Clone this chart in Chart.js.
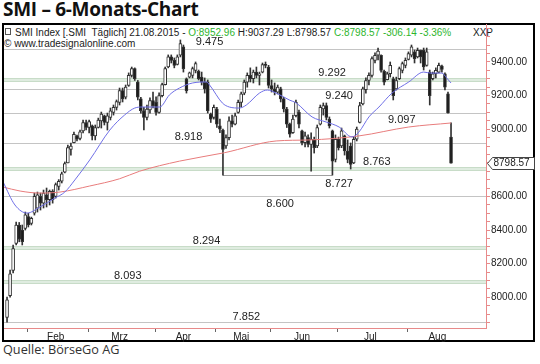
<!DOCTYPE html>
<html>
<head>
<meta charset="utf-8">
<script src="https://cdn.jsdelivr.net/npm/chart.js@4"></script>
<style>
  body { margin: 0; width: 540px; height: 364px; overflow: hidden; position: relative; background: #fff; }
  #title { position: absolute; left: 3px; top: 0; font: 700 19px/19px "Open Sans"; letter-spacing: -0.3px; color: #111; white-space: nowrap; }
  #src { position: absolute; left: 3px; top: 343px; font: 400 12.7px/13px "Open Sans"; color: #333; white-space: nowrap; }
  #frame { position: absolute; left: 2px; top: 23px; width: 529px; height: 315px; border: 2px solid #000; }
  .hdr { position: absolute; font: 10px/11px "Liberation Sans", Arial, sans-serif; color: #222; white-space: pre; }
  .g { color: #2db52d; }
  #icon { position: absolute; left: 5px; top: 28px; width: 4px; height: 5px; border: 1px solid #555; }
  canvas { position: absolute; left: 0; top: 0; }
</style>
</head>
<body>
<div id="title">SMI – 6-Monats-Chart</div>
<div id="frame"></div>
<div id="icon"></div>
<div class="hdr" style="left:15px;top:27px">SMI Index [.SMI  Täglich] 21.08.2015 - <span class="g">O:8952.96</span> H:9037.29 L:8798.57 <span class="g">C:8798.57 -306.14 -3.36%</span></div>
<div class="hdr" style="left:473px;top:27px">XXP</div>
<div class="hdr" style="left:4px;top:38px">© www.tradesignalonline.com</div>
<div id="src">Quelle: BörseGo AG</div>
<canvas id="c" width="540" height="364"></canvas>
<script>
// month labels and the candle index where each month starts
const monthNames = ['Feb', 'Mrz', 'Apr', 'Mai', 'Jun', 'Jul', 'Aug'];
const monthStart = [7, 27, 49, 69, 87, 109, 132];

// daily candles
const open = [
  7880,8010,8160,8320,8430,8400,8410,8480,8440,8500,
  8530,8600,8560,8610,8580,8630,8600,8660,8690,8745,
  8800,8880,8920,8960,8945,8990,9040,9010,9020,8960,
  9010,9050,9080,9040,9070,9100,9130,9160,9230,9190,
  9260,9320,9360,9280,9180,9110,9070,9115,9170,9160,
  9100,9200,9265,9370,9430,9410,9385,9440,9490,9300,
  9310,9320,9350,9345,9310,9280,9280,9090,9070,9120,
  9020,8995,8900,8950,9050,9030,9100,9160,9215,9280,
  9320,9300,9340,9320,9340,9385,9370,9260,9240,9220,
  9240,9180,9120,9030,8980,9080,9100,8990,8920,8950,
  8910,8940,8900,9030,9120,9140,9060,8990,8820,8940,
  8900,8960,8870,8900,8800,8940,9040,9150,9235,9290,
  9320,9410,9440,9440,9345,9295,9330,9300,9240,9300,
  9350,9380,9415,9440,9460,9430,9470,9470,9380,9340,
  9300,9330,9340,9375,9330,9210,8952.96
];
const high = [
  8001,8162,8311,8448,8445,8430,8507,8500,8477,8620,
  8626,8620,8638,8650,8638,8640,8680,8700,8745,8805,
  8906,8918,8983,8965,8995,9055,9055,9055,9025,9025,
  9066,9102,9084,9096,9126,9144,9174,9245,9245,9263,
  9335,9370,9365,9290,9190,9130,9144,9186,9221,9192,
  9216,9275,9370,9442,9442,9424,9442,9531,9501,9305,
  9340,9370,9400,9352,9340,9305,9293,9096,9144,9130,
  9060,9000,8966,9073,9084,9096,9174,9221,9293,9335,
  9365,9352,9370,9340,9394,9400,9380,9293,9275,9263,
  9250,9190,9130,9037,9084,9174,9114,8995,8983,8966,
  8978,8953,9025,9144,9156,9156,9073,8995,8966,8953,
  9007,8965,8936,8918,8953,9013,9160,9250,9305,9335,
  9430,9454,9483,9442,9352,9340,9400,9310,9310,9370,
  9400,9424,9460,9501,9471,9483,9471,9483,9483,9352,
  9340,9365,9394,9382,9335,9221,9037.29
];
const low = [
  7852,8001,8145,8311,8330,8311,8400,8418,8430,8489,
  8507,8519,8531,8537,8549,8560,8590,8638,8680,8740,
  8799,8846,8918,8930,8936,8978,8995,8978,8936,8936,
  9007,9007,9025,8995,9055,9084,9114,9144,9162,9180,
  9255,9310,9290,9174,9096,8995,9055,9096,9126,9084,
  9096,9192,9263,9365,9394,9365,9382,9430,9340,9215,
  9305,9305,9335,9293,9263,9215,9096,9040,9060,9010,
  8980,8727,8885,8936,9013,9025,9095,9132,9205,9250,
  9281,9275,9305,9263,9335,9365,9245,9221,9204,9210,
  9162,9102,9010,8953,8975,9073,9007,8906,8894,8894,
  8750,8858,8890,9025,9084,9055,9007,8727,8805,8876,
  8890,8846,8800,8763,8795,8930,9037,9145,9215,9263,
  9310,9394,9412,9340,9263,9293,9310,9174,9233,9295,
  9335,9365,9412,9430,9394,9424,9394,9352,9375,9144,
  9293,9305,9335,9340,9233,9096,8798.57
];
const close = [
  7985,8140,8290,8430,8345,8330,8490,8430,8470,8600,
  8610,8560,8620,8580,8630,8580,8670,8690,8735,8795,
  8890,8900,8970,8940,8985,9040,9010,9045,8960,9010,
  9055,9090,9040,9080,9110,9130,9165,9230,9180,9250,
  9320,9360,9300,9190,9110,9070,9120,9170,9140,9100,
  9200,9265,9360,9430,9410,9380,9430,9510,9360,9230,
  9335,9360,9390,9300,9280,9240,9110,9060,9130,9030,
  9000,8880,8950,9050,9030,9080,9160,9210,9280,9320,
  9300,9340,9320,9330,9385,9380,9260,9240,9220,9250,
  9180,9120,9030,8970,9060,9160,9030,8920,8960,8910,
  8940,8890,9010,9130,9140,9070,9020,8810,8940,8890,
  8990,8870,8820,8790,8940,9000,9140,9240,9290,9320,
  9420,9440,9465,9350,9280,9330,9380,9200,9290,9360,
  9390,9410,9450,9490,9420,9470,9430,9370,9460,9200,
  9330,9350,9380,9355,9250,9097,8798.57
];

// short moving average (blue)
const maShortX = [-1.3, 2.6, 6.6, 10.8, 15.7, 19, 22.3, 27.2, 33.8, 38.7, 42, 44.6, 50.2, 53.4, 56.7, 61, 65.6, 66.6, 70.8, 73.1, 76.4, 78.7, 83, 85.6, 88.5, 92.8, 95.1, 100.3, 104.9, 109.2, 113.4, 115.7, 119, 122.3, 126.6, 132.1, 137, 139.3, 143, 144.6, 146];
const maShortY = [8686, 8549, 8501, 8537, 8590, 8626, 8698, 8817, 8995, 9085, 9126, 9132, 9132, 9204, 9245, 9275, 9281, 9263, 9156, 9132, 9126, 9144, 9215, 9233, 9215, 9174, 9156, 9073, 9043, 9013, 8954, 8983, 9073, 9132, 9215, 9281, 9340, 9334, 9334, 9304, 9275];
// long moving average (red)
const maLongX = [-1.3, 4.3, 10.8, 17.4, 27.2, 37, 43.6, 56.7, 71.5, 88.5, 99.3, 115.7, 132.1, 146];
const maLongY = [8656, 8632, 8620, 8626, 8662, 8705, 8750, 8810, 8860, 8930, 8936, 8960, 9013, 9037];

// horizontal support / resistance levels
const levels = [9475, 9292, 9240, 9097, 8918, 8763, 8600, 8294, 8093, 7852];
const levelText = ['9.475', '9.292', '9.240', '9.097', '8.918', '8.763', '8.600', '8.294', '8.093', '7.852'];
const levelBand = [false, true, false, false, false, true, false, true, true, false];
// short support line between the two lows
const supportLevel = 8727;
const supportText = '8.727';
const supportFrom = 71, supportTo = 107;

const yLabels = [8000, 8200, 8400, 8600, 8800, 9000, 9200, 9400];
const lastClose = close[close.length - 1];

// label placement (index units / pixel offsets)
const levelLabelX = [66.6, 106.9, 109.2, 129.8, 59.7, 121.6, 89.8, 65.6, 39.7, 78.7];
const levelLabelDy = [-7, -7, 7, 7, -6, -7, 8, -7, -6, -5];
const supportLabelX = 109.2, supportLabelDy = 9;

const RED = '#e88a8a';
const idx = close.map((_, i) => i);

const overlay = {
  id: 'overlay',
  beforeDatasetsDraw(chart) {
    const { ctx, chartArea: a, scales: { x, y } } = chart;
    ctx.save();
    ctx.beginPath();
    ctx.rect(a.left, a.top, a.right - a.left, a.bottom - a.top);
    ctx.clip();
    levels.forEach((v, k) => {
      const py = Math.round(y.getPixelForValue(v));
      if (levelBand[k]) {
        ctx.fillStyle = '#c8dcc8';
        ctx.fillRect(a.left, py - 2, a.right - a.left, 4);
        ctx.fillStyle = '#dfece0';
        ctx.fillRect(a.left, py - 1, a.right - a.left, 2);
      } else {
        ctx.fillStyle = '#c4c4c4';
        ctx.fillRect(a.left, py, a.right - a.left, 1);
      }
    });
    const sy = Math.round(y.getPixelForValue(supportLevel));
    const sx0 = x.getPixelForValue(supportFrom), sx1 = x.getPixelForValue(supportTo);
    ctx.fillStyle = '#a0a0a0';
    ctx.fillRect(sx0, sy, sx1 - sx0, 1);
    ctx.restore();
  },
  afterDatasetsDraw(chart) {
    const { ctx, chartArea: a, scales: { x, y } } = chart;
    ctx.save();
    ctx.font = '11px "Liberation Sans", Arial, sans-serif';
    ctx.fillStyle = '#222';
    ctx.textAlign = 'center';
    ctx.textBaseline = 'middle';
    levels.forEach((v, k) => {
      ctx.fillText(levelText[k], x.getPixelForValue(levelLabelX[k]), y.getPixelForValue(v) + levelLabelDy[k]);
    });
    ctx.fillText(supportText, x.getPixelForValue(supportLabelX), y.getPixelForValue(supportLevel) + supportLabelDy);

    // month boundary tick marks
    ctx.fillStyle = '#666';
    monthStart.forEach(s => {
      ctx.fillRect(Math.round(x.getPixelForValue(s - 0.5)), a.bottom + 1, 1, 3);
    });

    // last price marker on the right axis
    const py = Math.round(y.getPixelForValue(lastClose)) + 0.5;
    const px = a.right + 1.5;
    ctx.beginPath();
    ctx.moveTo(px, py);
    ctx.lineTo(px + 5, py - 6);
    ctx.lineTo(px + 47, py - 6);
    ctx.lineTo(px + 47, py + 6);
    ctx.lineTo(px + 5, py + 6);
    ctx.closePath();
    ctx.fillStyle = '#fff';
    ctx.fill();
    ctx.strokeStyle = '#444';
    ctx.lineWidth = 1;
    ctx.stroke();
    ctx.fillStyle = '#222';
    ctx.font = '10px "Liberation Sans", Arial, sans-serif';
    ctx.textAlign = 'left';
    ctx.fillText(lastClose.toFixed(2), px + 6, py);
    ctx.restore();
  }
};

new Chart(document.getElementById('c'), {
  type: 'bar',
  data: {
    datasets: [
      {
        label: 'Docht',
        data: idx.map(i => ({ x: i, y: [low[i], high[i]] })),
        backgroundColor: '#333',
        barThickness: 1,
        grouped: false,
        order: 3
      },
      {
        label: 'Kerze',
        data: idx.map(i => ({ x: i, y: [open[i], close[i]] })),
        backgroundColor: idx.map(i => close[i] >= open[i] ? '#ffffff' : '#1c1c1c'),
        borderColor: '#333',
        borderWidth: 1,
        borderSkipped: false,
        barThickness: 3,
        minBarLength: 1,
        grouped: false,
        order: 2
      },
      {
        type: 'line',
        label: 'MA kurz',
        data: maShortX.map((v, k) => ({ x: v, y: maShortY[k] })),
        borderColor: '#6f6fe6',
        borderWidth: 1,
        pointRadius: 0,
        cubicInterpolationMode: 'monotone',
        order: 1
      },
      {
        type: 'line',
        label: 'MA lang',
        data: maLongX.map((v, k) => ({ x: v, y: maLongY[k] })),
        borderColor: '#e87c7c',
        borderWidth: 1,
        pointRadius: 0,
        cubicInterpolationMode: 'monotone',
        order: 1
      }
    ]
  },
  options: {
    responsive: false,
    animation: false,
    layout: { padding: { left: 4, top: 24, right: 5, bottom: 22 } },
    plugins: { legend: { display: false }, tooltip: { enabled: false } },
    scales: {
      x: {
        type: 'linear',
        offset: false,
        min: -1,
        max: 157.5,
        afterBuildTicks(s) {
          s.ticks = monthStart.map((st, k) => {
            const end = k + 1 < monthStart.length ? monthStart[k + 1] : 153;
            return { value: (st + end) / 2 - 1 };
          });
        },
        afterFit(s) { s.height = 14; },
        border: { color: RED, width: 1 },
        grid: { display: true, drawOnChartArea: false, drawTicks: false, color: RED },
        ticks: {
          autoSkip: false,
          maxRotation: 0,
          padding: 3,
          color: '#222',
          font: { family: '"Liberation Sans", Arial, sans-serif', size: 10 },
          callback: (v, k) => monthNames[k]
        }
      },
      y: {
        position: 'right',
        min: 7817,
        max: 9626,
        afterBuildTicks(s) {
          const t = [];
          for (let v = 7850; v <= 9600; v += 50) t.push({ value: v });
          s.ticks = t;
        },
        afterFit(s) { s.width = 49; },
        border: { color: RED, width: 1 },
        grid: { drawOnChartArea: false, tickLength: 4, color: RED },
        ticks: {
          autoSkip: false,
          padding: 1,
          color: '#222',
          font: { family: '"Liberation Sans", Arial, sans-serif', size: 10 },
          callback: v => yLabels.includes(v) ? v.toFixed(2) : ''
        }
      }
    }
  },
  plugins: [overlay]
});
</script>
</body>
</html>
